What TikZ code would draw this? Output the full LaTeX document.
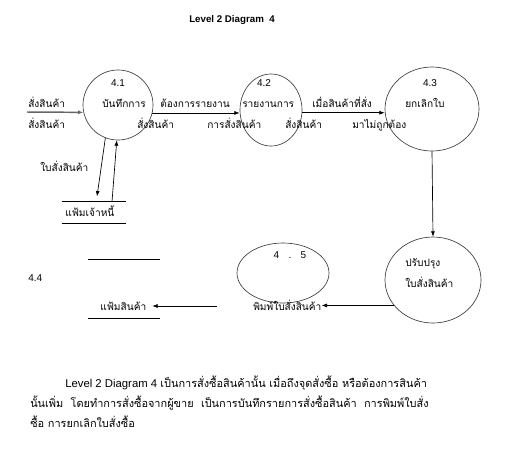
\documentclass[tikz,border=0pt]{standalone}
\usepackage{fontspec}
\setmainfont{Liberation Sans}
\newfontfamily\thaifont[Script=Thai]{Loma}
\usetikzlibrary{arrows.meta,positioning,shapes.geometric}

\begin{document}
\begin{tikzpicture}[x=0.75pt,y=-0.75pt,>={Latex[length=4pt,width=3pt]},
  proc/.style={draw=black!75,ellipse,line width=0.5pt,inner sep=0pt},
  store/.style={inner sep=0pt,minimum width=#1},
  storeline/.style={line width=1.1pt},
  flow/.style={->,line width=0.5pt},
  lbl/.style={anchor=base west,inner sep=0pt,font=\thaifont\fontsize{7.6}{9}\selectfont},
  num/.style={anchor=base,inner sep=0pt,font=\fontsize{7.5}{9}\selectfont},
  para/.style={anchor=base west,inner sep=0pt,font=\fontsize{8.5}{10}\selectfont},
  thpara/.style={para,font=\thaifont\fontsize{8.2}{10}\selectfont}]
\path[use as bounding box,fill=white] (0,0) rectangle (516,462);
\node[num,font=\bfseries\fontsize{7.3}{9}\selectfont] (title) at (232,22) {Level 2 Diagram\ \ 4};
% processes
\node[proc,minimum width=52.5pt,minimum height=52.5pt] (p1) at (118,105) {};
\node[proc,minimum width=46.5pt,minimum height=54pt] (p2) at (271,110) {};
\node[proc,minimum width=70.5pt,minimum height=63pt] (p3) at (432,109) {};
\node[proc,minimum width=72pt,minimum height=64.5pt] (p6) at (433,280) {};
\node[proc,minimum width=69pt,minimum height=45pt] (p5) at (283,273) {};
\node[num] (n1) at (118,86) {4.1};
\node[num] (n2) at (264,86) {4.2};
\node[num] (n3) at (430,86) {4.3};
\node[num] (n5) at (290,258) {4\hspace{7pt}.\hspace{7pt}5};
\node[num,anchor=base west] (n4) at (28,281) {4.4};
\node[lbl] (t1a) at (102,107) {บันทึกการ};
\node[lbl] (t1b) at (137,128) {สั่งสินค้า};
\node[lbl] (t2a) at (242,107) {รายงานการ};
\node[lbl] (t2b) at (285,128) {สั่งสินค้า};
\node[lbl] (t3a) at (405,107) {ยกเลิกใบ};
\node[lbl] (t6a) at (405,266) {ปรับปรุง};
\node[lbl] (t6b) at (405,287) {ใบสั่งสินค้า};
\node[lbl] (t5) at (253,310) {พิมพ์ใบสั่งสินค้า};
% data stores
\node[store=48pt,minimum height=15.75pt] (s1) at (94,212.5) {};
\draw[storeline] (s1.north west) -- (s1.north east) (s1.south west) -- (s1.south east);
\node[lbl] (t4a) at (65,216) {แฟ้มเจ้าหนี้};
\node[store=54pt,minimum height=43.5pt] (s2) at (124,289) {};
\draw[storeline] (s2.north west) -- (s2.north east) (s2.south west) -- (s2.south east);
\node[lbl] (t4b) at (100,310) {แฟ้มสินค้า};
% flows
\coordinate (in1) at (27,112);
\draw[->,line width=1.1pt,draw=black!60] (in1) -- (p1.192);
\node[lbl] (f0a) at (28,107) {สั่งสินค้า};
\node[lbl] (f0b) at (28,128) {สั่งสินค้า};
\draw[flow] (p1.-13) -- (p1.-13 -| p2.west);
\node[lbl] (f1a) at (160,107) {ต้องการรายงาน};
\node[lbl] (f1b) at (207,128) {การสั่งสินค้า};
\draw[flow] (p2.-5) -- (p2.-5 -| p3.west);
\node[lbl] (f2a) at (312,107) {เมื่อสินค้าที่สั่ง};
\node[lbl] (f2b) at (352,128) {มาไม่ถูกต้อง};
\draw[flow] (p3.south) -- (p6.north);
\draw[flow] (p6.213) -- (p6.213 -| t5.east);
\coordinate (c5) at (217,306);
\draw[flow,shorten >=-6pt] (c5) -- (c5 -| s2.east);
\draw[flow] (p1.249) -- ([xshift=2.25pt,yshift=4pt]s1.north);
\draw[flow] ([xshift=13.5pt]s1.north) -- (p1.268);
\node[lbl] (f3) at (40,171) {ใบสั่งสินค้า};
% description
\node[para] (d1) at (65,387) {Level 2 Diagram 4 {\thaifont\fontsize{8.2}{10}\selectfont เป็นการสั่งซื้อสินค้านั้น เมื่อถึงจุดสั่งซื้อ หรือต้องการสินค้า}};
\node[thpara] (d2) at (30,407) {นั้นเพิ่ม\ \ โดยทำการสั่งซื้อจากผู้ขาย\ \ เป็นการบันทึกรายการสั่งซื้อสินค้า\ \ การพิมพ์ใบสั่ง};
\node[thpara] (d3) at (30,427) {ซื้อ การยกเลิกใบสั่งซื้อ};
\end{tikzpicture}
\end{document}
